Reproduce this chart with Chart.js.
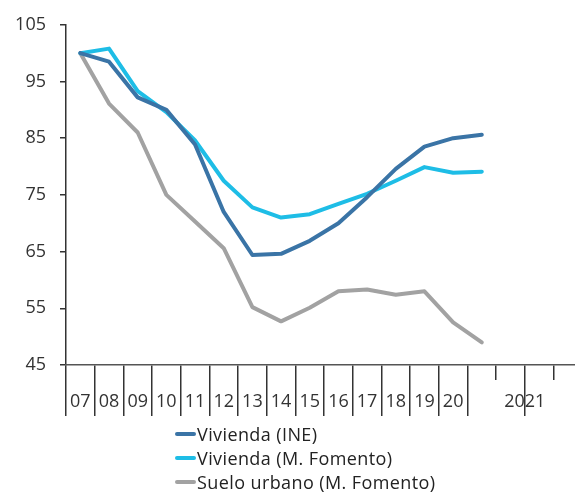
<!DOCTYPE html>
<html>
<head>
<meta charset="utf-8">
<script src="https://cdn.jsdelivr.net/npm/chart.js@4"></script>
<style>
  body { margin: 0; background: #fff; }
  #wrap { position: relative; width: 575px; height: 502px; }
  #legend {
    position: absolute; left: 175px; top: 422px;
    font-family: "Open Sans", sans-serif; font-size: 18px; color: #222;
    letter-spacing: 0.4px;
  }
  .item { display: flex; align-items: center; height: 24px; white-space: nowrap; }
  .swatch { width: 21px; height: 4px; border-radius: 2px; margin-right: 1px; }
</style>
</head>
<body>
<div id="wrap">
  <canvas id="priceChart" width="575" height="502"></canvas>
  <div id="legend"></div>
</div>
<script>
  // one point per year, 2007 .. 2021
  const periods = ["2007", "2008", "2009", "2010", "2011", "2012", "2013", "2014",
                   "2015", "2016", "2017", "2018", "2019", "2020", "2021"];
  const viviendaINE = [100, 98.5, 92.2, 90.0, 83.9, 72.0, 64.4, 64.6, 66.9, 70.0, 74.6, 79.6, 83.5, 85.0, 85.6];
  const viviendaFomento = [100, 100.8, 93.3, 89.6, 84.6, 77.5, 72.8, 71.0, 71.6, 73.4, 75.2, 77.5, 79.9, 78.9, 79.1];
  const sueloUrbano = [100, 91.1, 86.0, 75.0, 70.3, 65.6, 55.2, 52.7, 55.1, 58.0, 58.3, 57.4, 58.0, 52.5, 49.0];

  // axis labels
  const yearLabels = ["07", "08", "09", "10", "11", "12", "13", "14", "15", "16", "17", "18", "19", "20"];
  const lastYearLabel = "2021";
  const yTicks = [45, 55, 65, 75, 85, 95, 105];

  const tickFont = { family: "'Open Sans', sans-serif", size: 18 };
  const axisColor = "#333";

  const toPoints = (vals) => vals.map((v, i) => ({ x: i + 0.5, y: v }));

  // year boundaries 0..14, then the quarters of 2021
  const boundaryTicks = [];
  for (let k = 0; k <= 17; k++) boundaryTicks.push(k);

  const ctx = document.getElementById("priceChart").getContext("2d");
  const priceChart = new Chart(ctx, {
    type: "line",
    data: {
      datasets: [
        { label: "Vivienda (INE)", data: toPoints(viviendaINE), borderColor: "#3a74a6" },
        { label: "Vivienda (M. Fomento)", data: toPoints(viviendaFomento), borderColor: "#1ebde6" },
        { label: "Suelo urbano (M. Fomento)", data: toPoints(sueloUrbano), borderColor: "#a2a2a2" },
      ],
    },
    options: {
      responsive: false,
      animation: false,
      layout: { padding: { top: 15, right: 0, bottom: 86, left: 0 } },
      elements: {
        point: { radius: 0 },
        line: { borderWidth: 4, tension: 0, borderJoinStyle: "round", borderCapStyle: "round", fill: false },
      },
      plugins: {
        legend: { display: false },
        tooltip: { enabled: false },
      },
      scales: {
        y: {
          min: 45,
          max: 105,
          afterBuildTicks: (s) => { s.ticks = yTicks.map((v) => ({ value: v })); },
          ticks: { padding: 14, color: axisColor, font: tickFont },
          grid: { drawOnChartArea: false, tickLength: 6, color: axisColor, lineWidth: 1.5 },
          border: { color: axisColor, width: 1.5 },
          afterFit: (s) => { s.width = 66; },
        },
        x: {
          type: "linear",
          min: 0,
          max: 17.75,
          weight: 0,
          afterBuildTicks: (s) => { s.ticks = boundaryTicks.map((v) => ({ value: v })); },
          ticks: { callback: () => "", autoSkip: false },
          grid: { drawOnChartArea: false, tickLength: 15, color: axisColor, lineWidth: 1.5 },
          border: { color: "#555", width: 1.5 },
          afterFit: (s) => { s.height = 15; },
        },
        x2: {
          type: "linear",
          position: "bottom",
          min: 0,
          max: 17.75,
          weight: 1,
          afterBuildTicks: (s) => {
            const t = boundaryTicks.slice(0, yearLabels.length + 1).map((v) => ({ value: v }));
            yearLabels.forEach((_, i) => t.push({ value: i + 0.5 }));
            t.push({ value: 16 });
            t.sort((a, b) => a.value - b.value);
            s.ticks = t;
          },
          ticks: {
            autoSkip: false,
            maxRotation: 0,
            padding: -25,
            color: axisColor,
            font: tickFont,
            callback: (value) => {
              if (value === 16) return lastYearLabel;
              const i = value - 0.5;
              return Number.isInteger(i) && yearLabels[i] ? yearLabels[i] : "";
            },
          },
          grid: {
            drawOnChartArea: false,
            tickLength: 36,
            lineWidth: 1.5,
            tickColor: (c) => (c.tick && Number.isInteger(c.tick.value) ? axisColor : "rgba(0,0,0,0)"),
          },
          border: { display: false },
          afterFit: (s) => { s.height = 36; },
        },
      },
    },
  });

  // legend, one entry per row
  const legend = document.getElementById("legend");
  priceChart.data.datasets.forEach((ds) => {
    const row = document.createElement("div");
    row.className = "item";
    const sw = document.createElement("span");
    sw.className = "swatch";
    sw.style.background = ds.borderColor;
    const txt = document.createElement("span");
    txt.textContent = ds.label;
    row.appendChild(sw);
    row.appendChild(txt);
    legend.appendChild(row);
  });
</script>
</body>
</html>
